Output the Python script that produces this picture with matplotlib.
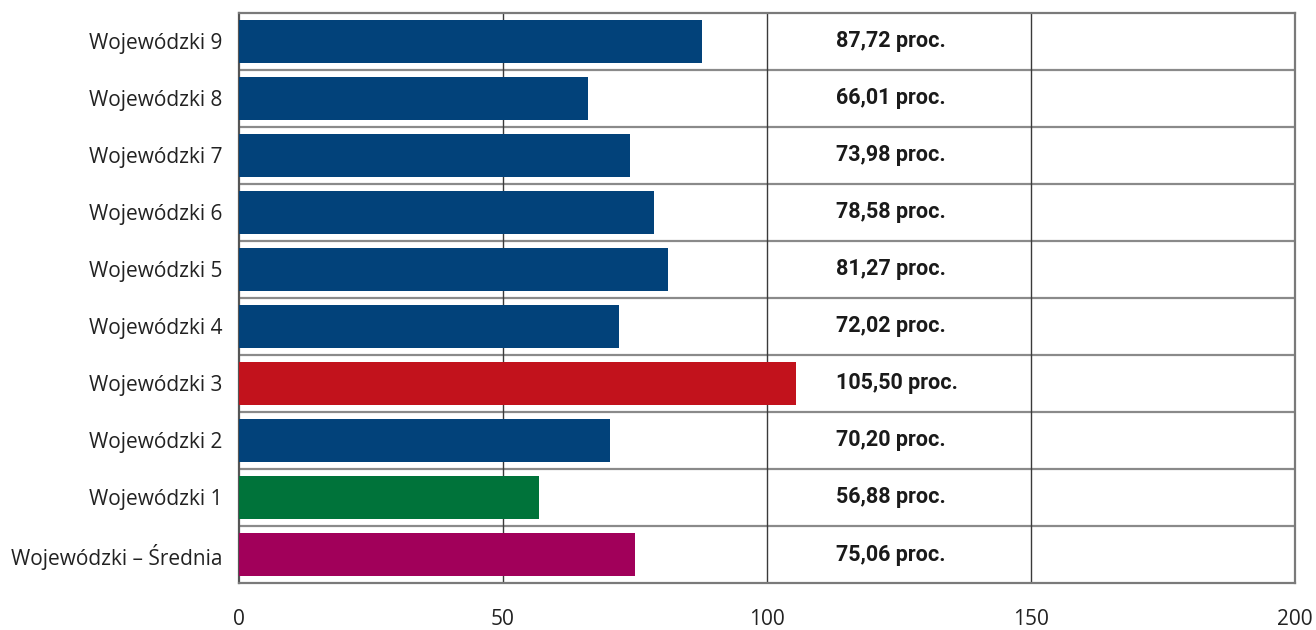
import matplotlib.pyplot as plt
import numpy as np

labels = ["Wojewódzki – Średnia", "Wojewódzki 1", "Wojewódzki 2", "Wojewódzki 3",
          "Wojewódzki 4", "Wojewódzki 5", "Wojewódzki 6", "Wojewódzki 7",
          "Wojewódzki 8", "Wojewódzki 9"]
values = [75.06, 56.88, 70.20, 105.50, 72.02, 81.27, 78.58, 73.98, 66.01, 87.72]

BLUE = "#02427a"
RED = "#c2121c"
GREEN = "#00733a"
PURPLE = "#a1005a"
colors = [PURPLE, GREEN, BLUE, RED] + [BLUE] * 6

fig = plt.figure(figsize=(13.16, 6.3), dpi=100)
ax = fig.add_axes([0.1816, 0.0746, 0.8024, 0.9048])

y = np.arange(len(labels))
ax.barh(y, values, height=0.74, color=colors, zorder=3)

ax.set_xlim(0, 200)
ax.set_ylim(-0.5, len(labels) - 0.5)
ax.set_xticks([0, 50, 100, 150, 200])
ax.set_yticks(y)
ax.set_yticklabels(labels, fontsize=15, family=["Open Sans", "DejaVu Sans"], color="#222222")
for t in ax.get_xticklabels():
    t.set_fontsize(15)
    t.set_family(["Open Sans", "DejaVu Sans"])
    t.set_color("#222222")
ax.tick_params(axis="both", length=0)
ax.tick_params(axis="x", pad=19)
ax.tick_params(axis="y", pad=12)

# row separators and value gridlines
for k in range(len(labels) - 1):
    ax.axhline(k + 0.5, color="#8a8a8a", linewidth=1.6, zorder=1)
for gx in (50, 100, 150):
    ax.axvline(gx, color="#3a3a3a", linewidth=1.0, zorder=1)

for side in ("top", "bottom", "right"):
    ax.spines[side].set_color("#7a7a7a")
    ax.spines[side].set_linewidth(1.6)
ax.spines["left"].set_color("#555555")
ax.spines["left"].set_linewidth(1.6)

for yi, v in zip(y, values):
    txt = f"{v:.2f}".replace(".", ",") + " proc."
    ax.text(113, yi, txt, ha="left", va="center", fontsize=15.5, fontweight="bold",
            family=["Roboto", "DejaVu Sans"], color="#1a1a1a", zorder=4)

fig.savefig("out.png", dpi=100)
